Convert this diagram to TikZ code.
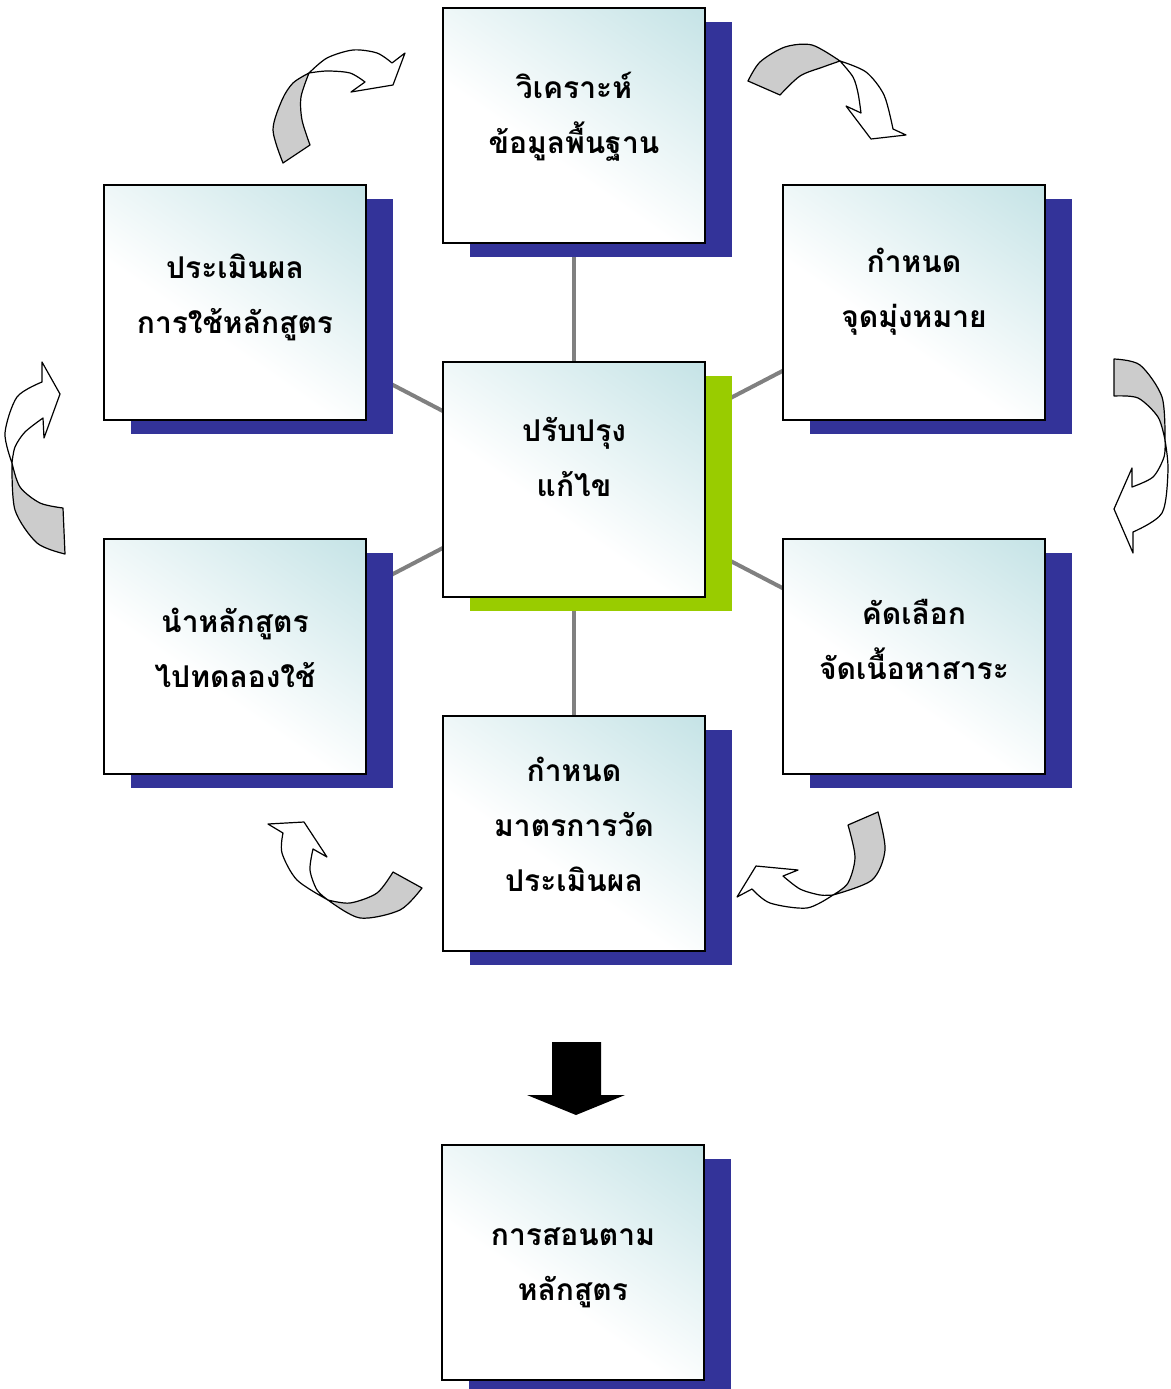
\documentclass[tikz,border=0pt]{standalone}
\usepackage{fontspec}
\newfontfamily\thaifont[Script=Thai]{Loma}
\usetikzlibrary{shadows,backgrounds}
\definecolor{navy}{RGB}{51,51,153}
\definecolor{limeg}{RGB}{153,204,0}
\definecolor{tealc}{RGB}{176,217,221}
\definecolor{ribgray}{RGB}{204,204,204}
\definecolor{linegray}{RGB}{128,128,128}
\pgfdeclareverticalshading{boxshade}{100bp}{color(0bp)=(white); color(42bp)=(white); color(100bp)=(tealc)}
\begin{document}
\begin{tikzpicture}[x=1pt,y=-1pt,
  box/.style={draw=black, line width=1.6pt, minimum width=262pt, minimum height=235pt,
    inner sep=0pt, shading=boxshade, shading angle=-35},
  boxtext/.style={align=center, inner sep=0pt,
    font=\thaifont\bfseries\fontsize{30}{55}\selectfont},
  navyshadow/.style={general shadow={fill=navy, shadow xshift=27pt, shadow yshift=-14pt}},
  limeshadow/.style={general shadow={fill=limeg, shadow xshift=27pt, shadow yshift=-14pt}},
  conn/.style={draw=linegray, line width=4pt},
  ribbon/.style={draw=black, line width=1.2pt, line join=round},
  blockarrow/.style={fill=black}]
\useasboundingbox (0,0) rectangle (1170,1389);

\node[box, navyshadow] (analyse) at (574,125.5) {};
\node[box, navyshadow] (evaluate) at (235,302.5) {};
\node[box, navyshadow] (goal) at (914,302.5) {};
\node[box, limeshadow] (improve) at (574,479.5) {};
\node[box, navyshadow] (trial) at (235,656.5) {};
\node[box, navyshadow] (content) at (914,656.5) {};
\node[box, navyshadow] (measure) at (574,833.5) {};
\node[box, navyshadow] (teach) at (573,1262.5) {};

\node[boxtext] (analyse-t) at ([yshift=9pt]analyse.center) {วิเคราะห์\\ข้อมูลพื้นฐาน};
\node[boxtext] (evaluate-t) at ([yshift=5pt]evaluate.center) {ประเมินผล\\การใช้หลักสูตร};
\node[boxtext] (goal-t) at ([yshift=11pt]goal.center) {กำหนด\\จุดมุ่งหมาย};
\node[boxtext] (improve-t) at ([yshift=23pt]improve.center) {ปรับปรุง\\แก้ไข};
\node[boxtext] (trial-t) at ([yshift=9pt]trial.center) {นำหลักสูตร\\ไปทดลองใช้};
\node[boxtext] (content-t) at ([yshift=17pt]content.center) {คัดเลือก\\จัดเนื้อหาสาระ};
\node[boxtext] (measure-t) at ([yshift=9pt]measure.center) {กำหนด\\มาตรการวัด\\ประเมินผล};
\node[boxtext] (teach-t) at ([yshift=-5pt]teach.center) {การสอนตาม\\หลักสูตร};

\begin{pgfonlayer}{background}
  \foreach \n in {analyse,evaluate,goal,trial,content,measure}
    \draw[conn] (improve.center) -- (\n.center);
\end{pgfonlayer}

% block arrow
\fill[blockarrow] (552,1042) -- (601,1042) -- (601,1095) -- (625,1095) -- (576,1115)
  -- (527,1095) -- (552,1095) -- cycle;

% curved ribbon arrows
% top-left
\filldraw[ribbon, fill=ribgray] plot[smooth] coordinates {(283,163) (273,130) (282,100) (293,83) (309,73)}
  -- plot[smooth] coordinates {(309,73) (301,97) (302,120) (310,145)} -- cycle;
\filldraw[ribbon, fill=white] plot[smooth] coordinates {(309,73) (327,58) (353,50) (377,53) (392,63)}
  -- (405,53) -- (393,85) -- (351,92) -- (365,82)
  -- plot[smooth] coordinates {(365,82) (350,73) (327,71) (309,73)} -- cycle;
% top-right
\filldraw[ribbon, fill=ribgray] plot[smooth] coordinates {(748,81) (760,62) (785,47) (812,45) (840,61)}
  -- plot[smooth] coordinates {(840,61) (823,67) (800,76) (780,95)} -- cycle;
\filldraw[ribbon, fill=white] plot[smooth] coordinates {(840,61) (866,72) (884,95) (893,129)}
  -- (906,135) -- (871,139) -- (846,106) -- (861,113)
  -- plot[smooth] coordinates {(861,113) (858,93) (853,77) (840,61)} -- cycle;
% right
\filldraw[ribbon, fill=ribgray] plot[smooth] coordinates {(1114,359) (1140,365) (1162,397) (1165,440)}
  -- plot[smooth] coordinates {(1165,440) (1158,417) (1138,398) (1114,396)} -- cycle;
\filldraw[ribbon, fill=white] plot[smooth] coordinates {(1165,440) (1168,470) (1162,513) (1133,532)}
  -- (1133,553) -- (1114,509) -- (1132,468) -- (1132,487)
  -- plot[smooth] coordinates {(1132,487) (1153,477) (1164,457) (1165,440)} -- cycle;
% bottom-right
\filldraw[ribbon, fill=ribgray] plot[smooth] coordinates {(878,812) (885,850) (872,880) (833,895)}
  -- plot[smooth] coordinates {(833,895) (848,883) (855,857) (848,825)} -- cycle;
\filldraw[ribbon, fill=white] plot[smooth] coordinates {(833,895) (807,908) (770,903) (752,889)}
  -- (737,897) -- (756,866) -- (798,870) -- (783,876)
  -- plot[smooth] coordinates {(783,876) (800,889) (820,895) (833,895)} -- cycle;
% bottom-left
\filldraw[ribbon, fill=ribgray] plot[smooth] coordinates {(422,888) (400,910) (360,918) (328,900)}
  -- plot[smooth] coordinates {(328,900) (350,903) (377,893) (393,872)} -- cycle;
\filldraw[ribbon, fill=white] plot[smooth] coordinates {(328,900) (297,880) (282,853) (283,833)}
  -- (268,824) -- (304,822) -- (327,857) -- (313,849)
  -- plot[smooth] coordinates {(313,849) (310,870) (317,890) (328,900)} -- cycle;
% left
\filldraw[ribbon, fill=ribgray] plot[smooth] coordinates {(65,554) (37,543) (15,510) (12,463)}
  -- plot[smooth] coordinates {(12,463) (20,487) (40,503) (63,508)} -- cycle;
\filldraw[ribbon, fill=white] plot[smooth] coordinates {(12,463) (5,433) (17,397) (42,382)}
  -- (42,362) -- (60,394) -- (44,438) -- (43,418)
  -- plot[smooth] coordinates {(43,418) (25,432) (15,447) (12,463)} -- cycle;
\end{tikzpicture}
\end{document}
